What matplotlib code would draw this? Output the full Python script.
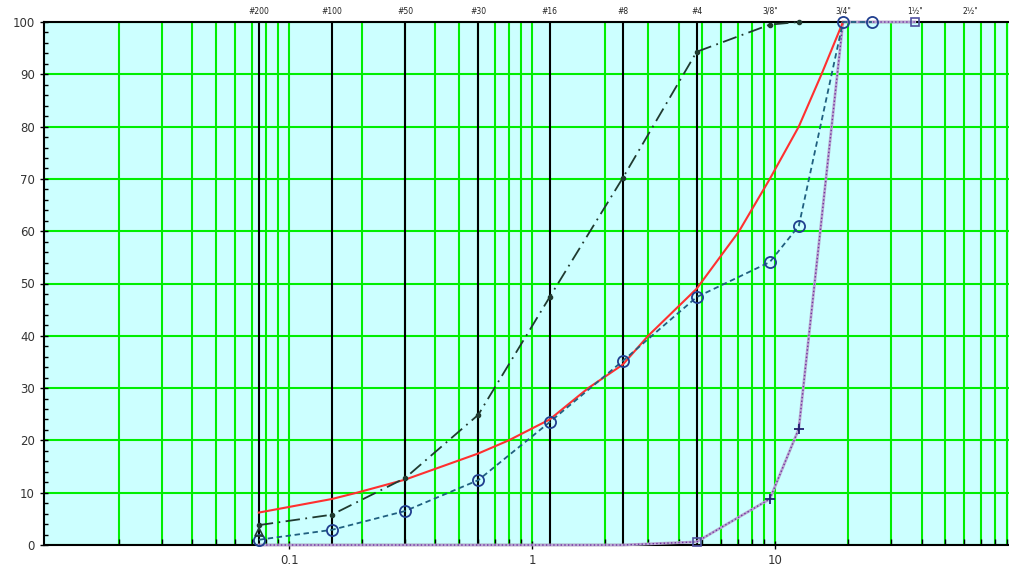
import numpy as np
import matplotlib
matplotlib.use('Agg')
import matplotlib.pyplot as plt
from matplotlib.ticker import LogLocator, NullFormatter

# sieve sizes (mm) and names
sieve_mm = [0.075, 0.15, 0.3, 0.6, 1.18, 2.36, 4.75, 9.5, 19, 37.5, 63.5]
sieve_names = ['#200', '#100', '#50', '#30', '#16', '#8', '#4', '3/8"', '3/4"', '1½"', '2½"']
n_lines = 7  # sieves with a black line (#200 .. #4)

# ideal curve (red)
ideal_x = [0.075, 0.15, 0.19, 0.3, 0.6, 0.8, 1.18, 1.7, 2.36, 3.0, 4.75, 7.1, 9.5, 12.5, 15.5, 19]
ideal_y = [6.2, 8.8, 10.0, 12.5, 17.5, 20.0, 24.0, 30.0, 34.5, 40.0, 49.0, 60.0, 70.0, 80.0, 90.0, 100]

# combined grading (blue circles)
mix_x = [0.075, 0.15, 0.3, 0.6, 1.18, 2.36, 4.75, 9.5, 12.5, 19, 25]
mix_y = [1.0, 2.9, 6.5, 12.4, 23.5, 35.2, 47.4, 54.1, 61.0, 100, 100]

# fine aggregate (black dash-dot)
fine_x = [0.075, 0.15, 0.3, 0.6, 1.18, 2.36, 4.75, 9.5, 12.5]
fine_y = [3.8, 5.8, 12.8, 24.9, 47.4, 70.2, 94.3, 99.5, 100]

# coarse aggregate (purple)
coarse_x = [0.075, 0.15, 0.3, 0.6, 1.18, 2.36, 4.75, 9.5, 12.5, 19, 25, 37.5]
coarse_y = [0, 0, 0, 0, 0, 0, 0.6, 8.8, 22.2, 100, 100, 100]

tri_x = [0.075]
tri_y = [2.5]

W, H = 1009, 569
fig = plt.figure(figsize=(W / 100, H / 100), dpi=100)
ax = fig.add_axes([44 / W, (H - 545) / H, (W - 44) / W, (545 - 22) / H])
ax.set_facecolor('#ccffff')
ax.set_xscale('log')
ax.set_xlim(0.0098, 91.6)
ax.set_ylim(0, 100)

# grid
ax.xaxis.set_minor_locator(LogLocator(base=10, subs=np.arange(2, 10), numticks=10))
ax.xaxis.set_minor_formatter(NullFormatter())
ax.set_xticks([0.1, 1, 10])
ax.set_xticklabels(['0.1', '1', '10'])
ax.set_yticks(np.arange(0, 101, 10))
ax.set_yticks(np.arange(0, 101, 2), minor=True)
ax.grid(True, which='major', axis='both', color='#00ee00', lw=1.5, zorder=1)
ax.grid(True, which='minor', axis='x', color='#00ee00', lw=1.5, zorder=1)

for d in sieve_mm[:n_lines]:
    ax.axvline(d, color='black', lw=1.5, zorder=2)
for d, name in zip(sieve_mm, sieve_names):
    ax.text(d, 101.2, name, ha='center', va='bottom', fontsize=5.5, color='#222222')

ax.tick_params(which='major', direction='inout', length=6, width=1, labelsize=8.5, colors='black', labelcolor='#333333')
ax.tick_params(which='minor', direction='in', length=3, width=1)
ax.tick_params(axis='x', which='minor', length=4)
ax.spines['right'].set_visible(False)
for s in ['left', 'bottom', 'top']:
    ax.spines[s].set_linewidth(1.5)

# curves
ax.plot(coarse_x, coarse_y, color='#b8a8d0', lw=2, zorder=3, clip_on=False)
ax.plot(coarse_x, coarse_y, color='#7030a0', lw=1, ls=':', zorder=3, clip_on=False)
ax.plot(coarse_x[7:9], coarse_y[7:9], ls='none', marker='+', ms=7, mew=1.3, color='#202070', zorder=6)
ax.plot([coarse_x[6], coarse_x[-1]], [coarse_y[6], coarse_y[-1]], ls='none', marker='s', ms=6,
        mfc='none', mec='#5050a0', mew=1.2, zorder=6, clip_on=False)

ax.plot(ideal_x, ideal_y, color='#ff3030', lw=1.5, zorder=4, clip_on=False)

ax.plot(mix_x, mix_y, color='#206080', lw=1.3, ls=(0, (3, 2)), zorder=5, clip_on=False)
ax.plot(mix_x, mix_y, ls='none', marker='o', ms=8, mfc='none', mec='#203f8f', mew=1.3, zorder=6, clip_on=False)

ax.plot(fine_x, fine_y, color='#203a30', lw=1.3, ls=(0, (8, 3, 1, 3)), zorder=5, clip_on=False)
ax.plot(fine_x, fine_y, ls='none', marker='o', ms=3, color='#203a30', zorder=6, clip_on=False)

ax.plot(tri_x, tri_y, ls='none', marker='^', ms=6, mfc='none', mec='#203a30', mew=1.2, zorder=6, clip_on=False)

fig.savefig('out.png', dpi=100)
